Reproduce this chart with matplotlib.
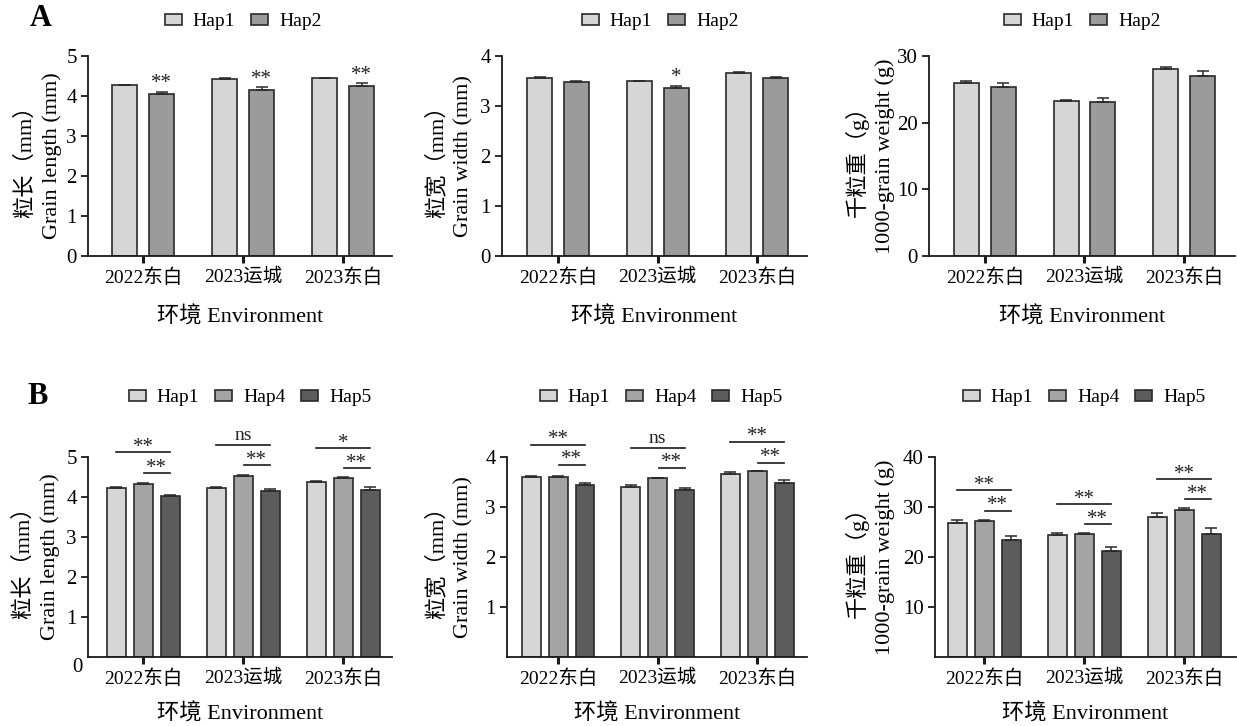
import matplotlib
matplotlib.use("Agg")
import matplotlib.pyplot as plt
import numpy as np

plt.rcParams['font.family'] = ['Liberation Serif', 'Noto Sans CJK SC']
plt.rcParams['axes.unicode_minus'] = False

# ---- data ----
envs = ['2022东白', '2023运城', '2023东白']

# A: Hap1 vs Hap2
a_len_hap1 = [4.27, 4.43, 4.45]
a_len_hap1_err = [0.01, 0.01, 0.01]
a_len_hap2 = [4.05, 4.15, 4.24]
a_len_hap2_err = [0.05, 0.07, 0.08]
a_len_sig = ['**', '**', '**']

a_wid_hap1 = [3.57, 3.50, 3.67]
a_wid_hap1_err = [0.01, 0.01, 0.01]
a_wid_hap2 = [3.49, 3.37, 3.57]
a_wid_hap2_err = [0.02, 0.04, 0.02]
a_wid_sig = ['', '*', '']

a_tgw_hap1 = [26.0, 23.3, 28.1]
a_tgw_hap1_err = [0.25, 0.15, 0.25]
a_tgw_hap2 = [25.35, 23.05, 27.0]
a_tgw_hap2_err = [0.65, 0.65, 0.75]
a_tgw_sig = ['', '', '']

# B: Hap1 / Hap4 / Hap5
b_len_hap1 = [4.22, 4.22, 4.38]
b_len_hap1_err = [0.03, 0.04, 0.03]
b_len_hap4 = [4.33, 4.53, 4.48]
b_len_hap4_err = [0.01, 0.01, 0.01]
b_len_hap5 = [4.02, 4.15, 4.17]
b_len_hap5_err = [0.04, 0.05, 0.07]
b_len_sig_15 = ['**', 'ns', '*']
b_len_sig_45 = ['**', '**', '**']
b_len_y_15 = [5.12, 5.31, 5.23]
b_len_y_45 = [4.60, 4.79, 4.72]

b_wid_hap1 = [3.61, 3.41, 3.67]
b_wid_hap1_err = [0.01, 0.03, 0.03]
b_wid_hap4 = [3.61, 3.58, 3.72]
b_wid_hap4_err = [0.01, 0.01, 0.01]
b_wid_hap5 = [3.45, 3.35, 3.48]
b_wid_hap5_err = [0.04, 0.04, 0.07]
b_wid_sig_15 = ['**', 'ns', '**']
b_wid_sig_45 = ['**', '**', '**']
b_wid_y_15 = [4.25, 4.19, 4.31]
b_wid_y_45 = [3.85, 3.79, 3.89]

b_tgw_hap1 = [26.8, 24.4, 28.1]
b_tgw_hap1_err = [0.55, 0.5, 0.65]
b_tgw_hap4 = [27.15, 24.6, 29.4]
b_tgw_hap4_err = [0.25, 0.2, 0.35]
b_tgw_hap5 = [23.4, 21.2, 24.7]
b_tgw_hap5_err = [0.8, 0.75, 1.1]
b_tgw_sig_15 = ['**', '**', '**']
b_tgw_sig_45 = ['**', '**', '**']
b_tgw_y_15 = [33.4, 30.6, 35.6]
b_tgw_y_45 = [29.3, 26.6, 31.6]

# ---- style ----
C_HAP1 = '#d6d6d6'
C_HAP2 = '#9b9b9b'
C_HAP4 = '#a4a4a4'
C_HAP5 = '#5c5c5c'
EDGE = '#2a2a2a'
FIG_W, FIG_H = 1237, 726

fig = plt.figure(figsize=(FIG_W / 100, FIG_H / 100), dpi=100)


def px_axes(left, top, right, bottom):
    return fig.add_axes([left / FIG_W, 1 - bottom / FIG_H,
                         (right - left) / FIG_W, (bottom - top) / FIG_H])


def style_axes(ax, ylim, yticks, ylabel, xlim, label_gap, xpad=14):
    ax.set_xlim(*xlim)
    ax.set_ylim(*ylim)
    ax.set_yticks(yticks)
    ax.set_xticks(np.arange(len(envs)))
    ax.set_xticklabels(envs)
    for s in ('top', 'right'):
        ax.spines[s].set_visible(False)
    for s in ('left', 'bottom'):
        ax.spines[s].set_linewidth(1.3)
        ax.spines[s].set_color('#1a1a1a')
    ax.tick_params(axis='y', length=5, width=1.3, labelsize=15, pad=3, color='#1a1a1a')
    ax.tick_params(axis='x', length=5, width=2.2, labelsize=14, pad=4, color='#1a1a1a')
    ax.set_ylabel(ylabel, fontsize=16, linespacing=1.4, multialignment='center')
    axw = ax.get_position().width * FIG_W
    ax.yaxis.set_label_coords(-label_gap / axw, 0.5)
    ax.set_xlabel('环境 Environment', fontsize=16, labelpad=xpad)


def bars(ax, series, width, offsets):
    x = np.arange(len(envs))
    for (vals, errs, col, name), off in zip(series, offsets):
        ax.bar(x + off, vals, width, color=col, edgecolor=EDGE, linewidth=1.2,
               label=name, zorder=2)
        ax.errorbar(x + off, vals, yerr=[np.zeros(len(errs)), errs], fmt='none',
                    ecolor=EDGE, elinewidth=1.1, capsize=4.5, capthick=1.1, zorder=3)


def legend(ax, cx, cy):
    ax.legend(loc='center', bbox_to_anchor=(cx / FIG_W, 1 - cy / FIG_H),
              bbox_transform=fig.transFigure, ncol=3, frameon=False, fontsize=14,
              handlelength=0.9, handleheight=0.45, handletextpad=0.55,
              columnspacing=0.8, borderaxespad=0)


def sig_above(ax, vals, errs, labels, off, dy):
    x = np.arange(len(envs))
    for xi, v, e, s in zip(x, vals, errs, labels):
        if s:
            ax.annotate(s, (xi + off, v + e), xytext=(0, dy), textcoords='offset points',
                        ha='center', va='bottom', fontsize=15, color='#222222')


def brackets(ax, y_long, s_long, y_short, s_short, o1, o4, o5):
    x = np.arange(len(envs))
    for xi, yl, sl, ys, ss in zip(x, y_long, s_long, y_short, s_short):
        ax.plot([xi + o1, xi + o5], [yl, yl], color='#1a1a1a', lw=1.2, clip_on=False)
        ax.plot([xi + o4 + 0.01, xi + o5], [ys, ys], color='#1a1a1a', lw=1.2, clip_on=False)
        for xm, yy, s in ((xi + (o1 + o5) / 2, yl, sl), (xi + (o4 + o5) / 2, ys, ss)):
            dy = 0.5 if s == 'ns' else -3.5
            ax.annotate(s, (xm, yy), xytext=(0, dy), textcoords='offset points',
                        ha='center', va='bottom', fontsize=14 if s == 'ns' else 15,
                        color='#222222', annotation_clip=False)


W2, O2 = 0.25, 0.185
W3, O3 = 0.19, 0.27

# ---- row A ----
ax = px_axes(88, 56, 392, 256)
bars(ax, [(a_len_hap1, a_len_hap1_err, C_HAP1, 'Hap1'),
          (a_len_hap2, a_len_hap2_err, C_HAP2, 'Hap2')], W2, (-O2, O2))
sig_above(ax, a_len_hap2, a_len_hap2_err, a_len_sig, O2, -1)
style_axes(ax, (0, 5), range(0, 6), '粒长（mm）\nGrain length (mm)', (-0.55, 2.49), 26)
legend(ax, 243, 22)

ax = px_axes(502, 56, 807, 256)
bars(ax, [(a_wid_hap1, a_wid_hap1_err, C_HAP1, 'Hap1'),
          (a_wid_hap2, a_wid_hap2_err, C_HAP2, 'Hap2')], W2, (-O2, O2))
sig_above(ax, a_wid_hap2, a_wid_hap2_err, a_wid_sig, O2, -1)
style_axes(ax, (0, 4), range(0, 5), '粒宽（mm）\nGrain width (mm)', (-0.563, 2.50), 29)
legend(ax, 660, 22)

ax = px_axes(929, 56, 1235, 256)
bars(ax, [(a_tgw_hap1, a_tgw_hap1_err, C_HAP1, 'Hap1'),
          (a_tgw_hap2, a_tgw_hap2_err, C_HAP2, 'Hap2')], W2, (-O2, O2))
sig_above(ax, a_tgw_hap2, a_tgw_hap2_err, a_tgw_sig, O2, -1)
style_axes(ax, (0, 30), range(0, 31, 10), '千粒重（g）\n1000-grain weight (g)', (-0.56, 2.51), 34)
legend(ax, 1082, 22)

# ---- row B ----
ax = px_axes(88, 457, 392, 657)
bars(ax, [(b_len_hap1, b_len_hap1_err, C_HAP1, 'Hap1'),
          (b_len_hap4, b_len_hap4_err, C_HAP4, 'Hap4'),
          (b_len_hap5, b_len_hap5_err, C_HAP5, 'Hap5')], W3, (-O3, 0, O3))
brackets(ax, b_len_y_15, b_len_sig_15, b_len_y_45, b_len_sig_45, -O3, 0, O3)
style_axes(ax, (0, 5), range(1, 6), '粒长（mm）\nGrain length (mm)', (-0.55, 2.49), 28, xpad=11)
ax.annotate('0', (0, 0), xycoords='axes fraction', xytext=(-11, -10),
            textcoords='offset pixels', ha='center', va='center', fontsize=15)
legend(ax, 250, 398)

ax = px_axes(507, 457, 807, 657)
bars(ax, [(b_wid_hap1, b_wid_hap1_err, C_HAP1, 'Hap1'),
          (b_wid_hap4, b_wid_hap4_err, C_HAP4, 'Hap4'),
          (b_wid_hap5, b_wid_hap5_err, C_HAP5, 'Hap5')], W3, (-O3, 0, O3))
brackets(ax, b_wid_y_15, b_wid_sig_15, b_wid_y_45, b_wid_sig_45, -O3, 0, O3)
style_axes(ax, (0, 4), range(1, 5), '粒宽（mm）\nGrain width (mm)', (-0.513, 2.50), 34, xpad=11)
legend(ax, 661, 398)

ax = px_axes(935, 457, 1236, 657)
bars(ax, [(b_tgw_hap1, b_tgw_hap1_err, C_HAP1, 'Hap1'),
          (b_tgw_hap4, b_tgw_hap4_err, C_HAP4, 'Hap4'),
          (b_tgw_hap5, b_tgw_hap5_err, C_HAP5, 'Hap5')], W3, (-O3, 0, O3))
brackets(ax, b_tgw_y_15, b_tgw_sig_15, b_tgw_y_45, b_tgw_sig_45, -O3, 0, O3)
style_axes(ax, (0, 40), range(10, 41, 10), '千粒重（g）\n1000-grain weight (g)', (-0.49, 2.52), 40, xpad=11)
legend(ax, 1084, 398)

# panel letters
fig.text(41 / FIG_W, 1 - 18 / FIG_H, 'A', fontsize=22, fontweight='bold', ha='center', va='center')
fig.text(38 / FIG_W, 1 - 397 / FIG_H, 'B', fontsize=22, fontweight='bold', ha='center', va='center')

fig.savefig('out.png', dpi=100, facecolor='white')
